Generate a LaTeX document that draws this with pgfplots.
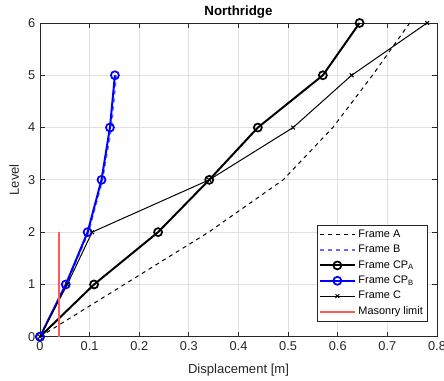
\documentclass[border=0pt]{standalone}
\usepackage{pgfplots}
\pgfplotsset{compat=1.18}
\usepackage{fontspec}
\setmainfont{Liberation Sans}
\definecolor{gridgray}{rgb}{0.88,0.88,0.88}
\definecolor{axgray}{rgb}{0.15,0.15,0.15}
\definecolor{fbblue}{rgb}{0.42,0.42,1}
\definecolor{limred}{RGB}{255,90,90}
\begin{document}
\begin{tikzpicture}
\begin{axis}[
  scale only axis,
  width=298pt, height=235.5pt,
  xmin=0, xmax=0.8, ymin=0, ymax=6,
  xtick={0,0.1,...,0.8},
  xticklabels={0,0.1,0.2,0.3,0.4,0.5,0.6,0.7,0.8},
  ytick={0,1,...,6},
  grid=major,
  major grid style={gridgray, line width=0.6pt},
  axis line style={axgray, line width=0.6pt},
  tick style={axgray, line width=0.6pt},
  tick align=inside,
  major tick length=3.5pt,
  xtick pos=both, ytick pos=both,
  tick label style={font=\fontsize{9.6}{10}\selectfont, text=axgray},
  /pgf/number format/assume math mode=true,
  xlabel={Displacement [m]},
  ylabel={Level},
  label style={font=\fontsize{9.8}{11}\selectfont, text=axgray},
  xlabel style={yshift=-3.5pt},
  ylabel style={yshift=0pt},
  title={\textbf{Northridge}},
  title style={font=\fontsize{10}{11}\selectfont, yshift=-6pt},
  legend image code/.code={
    \draw[mark repeat=2,mark phase=2] plot coordinates {(0cm,0cm) (0.46cm,0cm) (0.92cm,0cm)};},
  legend style={
    at={(0.977,0.048)}, anchor=south east,
    font=\fontsize{8.2}{9.5}\selectfont,
    draw=axgray, line width=0.6pt,
    cells={anchor=west},
    row sep=0.3pt,
    inner sep=1.5pt,
  },
  legend cell align=left,
]
\addplot[black, dashed, line width=0.75pt] coordinates {
  (0,0) (0.17,1) (0.34,2) (0.49,3) (0.59,4) (0.67,5) (0.745,6)};
\addlegendentry{Frame A}
\addplot[fbblue, dashed, line width=1.2pt] coordinates {
  (0,0) (0.053,1) (0.098,2) (0.126,3) (0.144,4) (0.154,5)};
\addlegendentry{Frame B}
\addplot[black, line width=1.5pt, mark=o, mark size=3pt, mark options={solid, line width=1.3pt}] coordinates {
  (0,0) (0.109,1) (0.238,2) (0.341,3) (0.439,4) (0.570,5) (0.644,6)};
\addlegendentry{Frame CP\textsubscript{A}}
\addplot[blue, line width=1.5pt, mark=o, mark size=3pt, mark options={solid, line width=1.3pt}] coordinates {
  (0,0) (0.052,1) (0.096,2) (0.124,3) (0.141,4) (0.151,5)};
\addlegendentry{Frame CP\textsubscript{B}}
\addplot[black, line width=0.75pt, mark=x, mark size=2pt] coordinates {
  (0,0) (0.055,1) (0.105,2) (0.341,3) (0.510,4) (0.628,5) (0.780,6)};
\addlegendentry{Frame C}
\addplot[limred, line width=1.3pt] coordinates {(0.039,0) (0.039,2)};
\addlegendentry{Masonry limit}
\end{axis}
\pgfresetboundingbox
\path (current axis.south west) ++(-30pt,-33pt) coordinate (bl);
\path (current axis.north east) ++(5.25pt,17.25pt) coordinate (tr);
\useasboundingbox (bl) rectangle (tr);
\end{tikzpicture}
\end{document}
